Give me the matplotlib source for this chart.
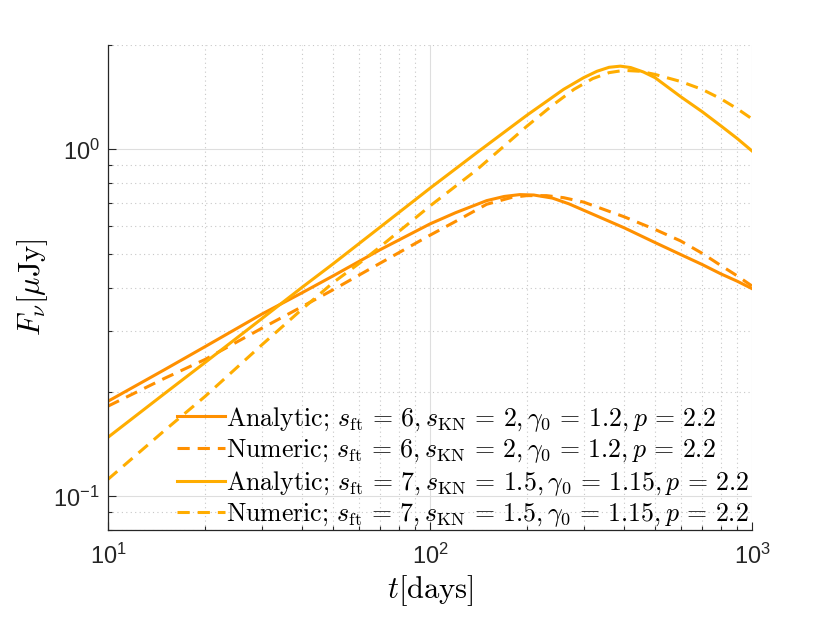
import matplotlib
matplotlib.use("Agg")
import matplotlib.pyplot as plt
from matplotlib.font_manager import FontProperties
from matplotlib.ticker import LogLocator, NullFormatter

# ---- data ----
t_a6 = [10, 15, 20, 30, 40, 50, 70, 100, 120, 150, 170, 190, 210, 240, 270, 300, 400, 500, 600, 700, 800, 900, 1000]
f_a6 = [0.188, 0.232, 0.270, 0.335, 0.386, 0.432, 0.514, 0.610, 0.657, 0.712, 0.732, 0.741, 0.739, 0.724, 0.697, 0.668, 0.595, 0.539, 0.498, 0.466, 0.438, 0.417, 0.397]

t_n6 = [10, 15, 20, 30, 40, 50, 70, 100, 120, 150, 180, 200, 230, 260, 300, 400, 500, 600, 700, 800, 900, 1000]
f_n6 = [0.182, 0.219, 0.248, 0.305, 0.352, 0.394, 0.470, 0.566, 0.620, 0.695, 0.728, 0.736, 0.736, 0.726, 0.705, 0.640, 0.588, 0.545, 0.502, 0.463, 0.432, 0.404]

t_a7 = [10, 15, 20, 30, 40, 50, 70, 100, 140, 200, 230, 260, 300, 330, 360, 390, 420, 460, 500, 600, 700, 800, 900, 1000]
f_a7 = [0.148, 0.198, 0.243, 0.325, 0.400, 0.468, 0.597, 0.773, 0.980, 1.255, 1.375, 1.490, 1.610, 1.680, 1.725, 1.738, 1.722, 1.672, 1.610, 1.420, 1.285, 1.170, 1.075, 0.990]

t_n7 = [10, 15, 20, 30, 40, 50, 60, 70, 100, 140, 200, 240, 280, 320, 360, 400, 450, 500, 600, 700, 800, 900, 1000]
f_n7 = [0.112, 0.155, 0.194, 0.273, 0.346, 0.413, 0.468, 0.524, 0.687, 0.875, 1.167, 1.340, 1.490, 1.600, 1.665, 1.690, 1.680, 1.645, 1.570, 1.490, 1.400, 1.310, 1.225]

labels = [
    r"$\mathrm{Analytic;}\,s_{\mathrm{ft}}\,=\,6,s_{\mathrm{KN}}\,=\,2,\gamma_0\,=\,1.2,p\,=\,2.2$",
    r"$\mathrm{Numeric;}\,s_{\mathrm{ft}}\,=\,6,s_{\mathrm{KN}}\,=\,2,\gamma_0\,=\,1.2,p\,=\,2.2$",
    r"$\mathrm{Analytic;}\,s_{\mathrm{ft}}\,=\,7,s_{\mathrm{KN}}\,=\,1.5,\gamma_0\,=\,1.15,p\,=\,2.2$",
    r"$\mathrm{Numeric;}\,s_{\mathrm{ft}}\,=\,7,s_{\mathrm{KN}}\,=\,1.5,\gamma_0\,=\,1.15,p\,=\,2.2$",
]
xlim = (10, 1000)
ylim = (0.08, 2.0)

c_dark = (1.0, 0.565, 0.0)
c_light = (1.0, 0.68, 0.0)

plt.rcParams['font.family'] = ['Liberation Sans', 'DejaVu Sans']

fig = plt.figure(figsize=(8.30, 6.23), dpi=100)
ax = fig.add_axes([108/830, 93/623, 644/830, 485/623])

lw = 2.2
dash = (4.0, 2.6)
ax.plot(t_a6, f_a6, color=c_dark, lw=lw, label=labels[0])
ax.plot(t_n6, f_n6, color=c_dark, lw=lw, dashes=dash, label=labels[1])
ax.plot(t_a7, f_a7, color=c_light, lw=lw, label=labels[2])
ax.plot(t_n7, f_n7, color=c_light, lw=lw, dashes=dash, label=labels[3])

ax.set_xscale('log')
ax.set_yscale('log')
ax.set_xlim(*xlim)
ax.set_ylim(*ylim)

ax.xaxis.set_major_locator(LogLocator(base=10, numticks=10))
ax.yaxis.set_major_locator(LogLocator(base=10, numticks=10))
ax.xaxis.set_minor_locator(LogLocator(base=10, subs=range(2, 10), numticks=20))
ax.yaxis.set_minor_locator(LogLocator(base=10, subs=range(2, 10), numticks=20))
ax.xaxis.set_minor_formatter(NullFormatter())
ax.yaxis.set_minor_formatter(NullFormatter())

ax.grid(True, which='major', color=(0.87, 0.87, 0.87), lw=0.8, ls='-')
ax.grid(True, which='minor', color=(0.78, 0.78, 0.78), lw=0.8, ls=(0, (1, 3)))
ax.set_axisbelow(True)

for s in ['top', 'right']:
    ax.spines[s].set_visible(False)
for s in ['left', 'bottom']:
    ax.spines[s].set_color((0.15, 0.15, 0.15))
    ax.spines[s].set_linewidth(0.9)

ax.tick_params(which='both', direction='in', colors=(0.15, 0.15, 0.15), labelsize=17, width=0.8)
ax.tick_params(which='major', length=6)
ax.tick_params(which='minor', length=3)
ax.tick_params(axis='x', pad=10)
ax.tick_params(axis='y', pad=6)

cmfp_lab = FontProperties(size=22, math_fontfamily='cm')
ax.set_xlabel(r"$t[\mathrm{days}]$", fontproperties=cmfp_lab, labelpad=3)
ax.set_ylabel(r"$F_\nu[\mu\mathrm{Jy}]$", fontproperties=cmfp_lab, labelpad=2)

cmfp_leg = FontProperties(size=18.6, math_fontfamily='cm')
leg = ax.legend(loc='lower right', bbox_to_anchor=(1.0, -0.004), prop=cmfp_leg,
                frameon=False, handlelength=1.85, handletextpad=0.05,
                labelspacing=0.14, borderaxespad=0.0, borderpad=0.1)

fig.savefig('out.png', dpi=100)
